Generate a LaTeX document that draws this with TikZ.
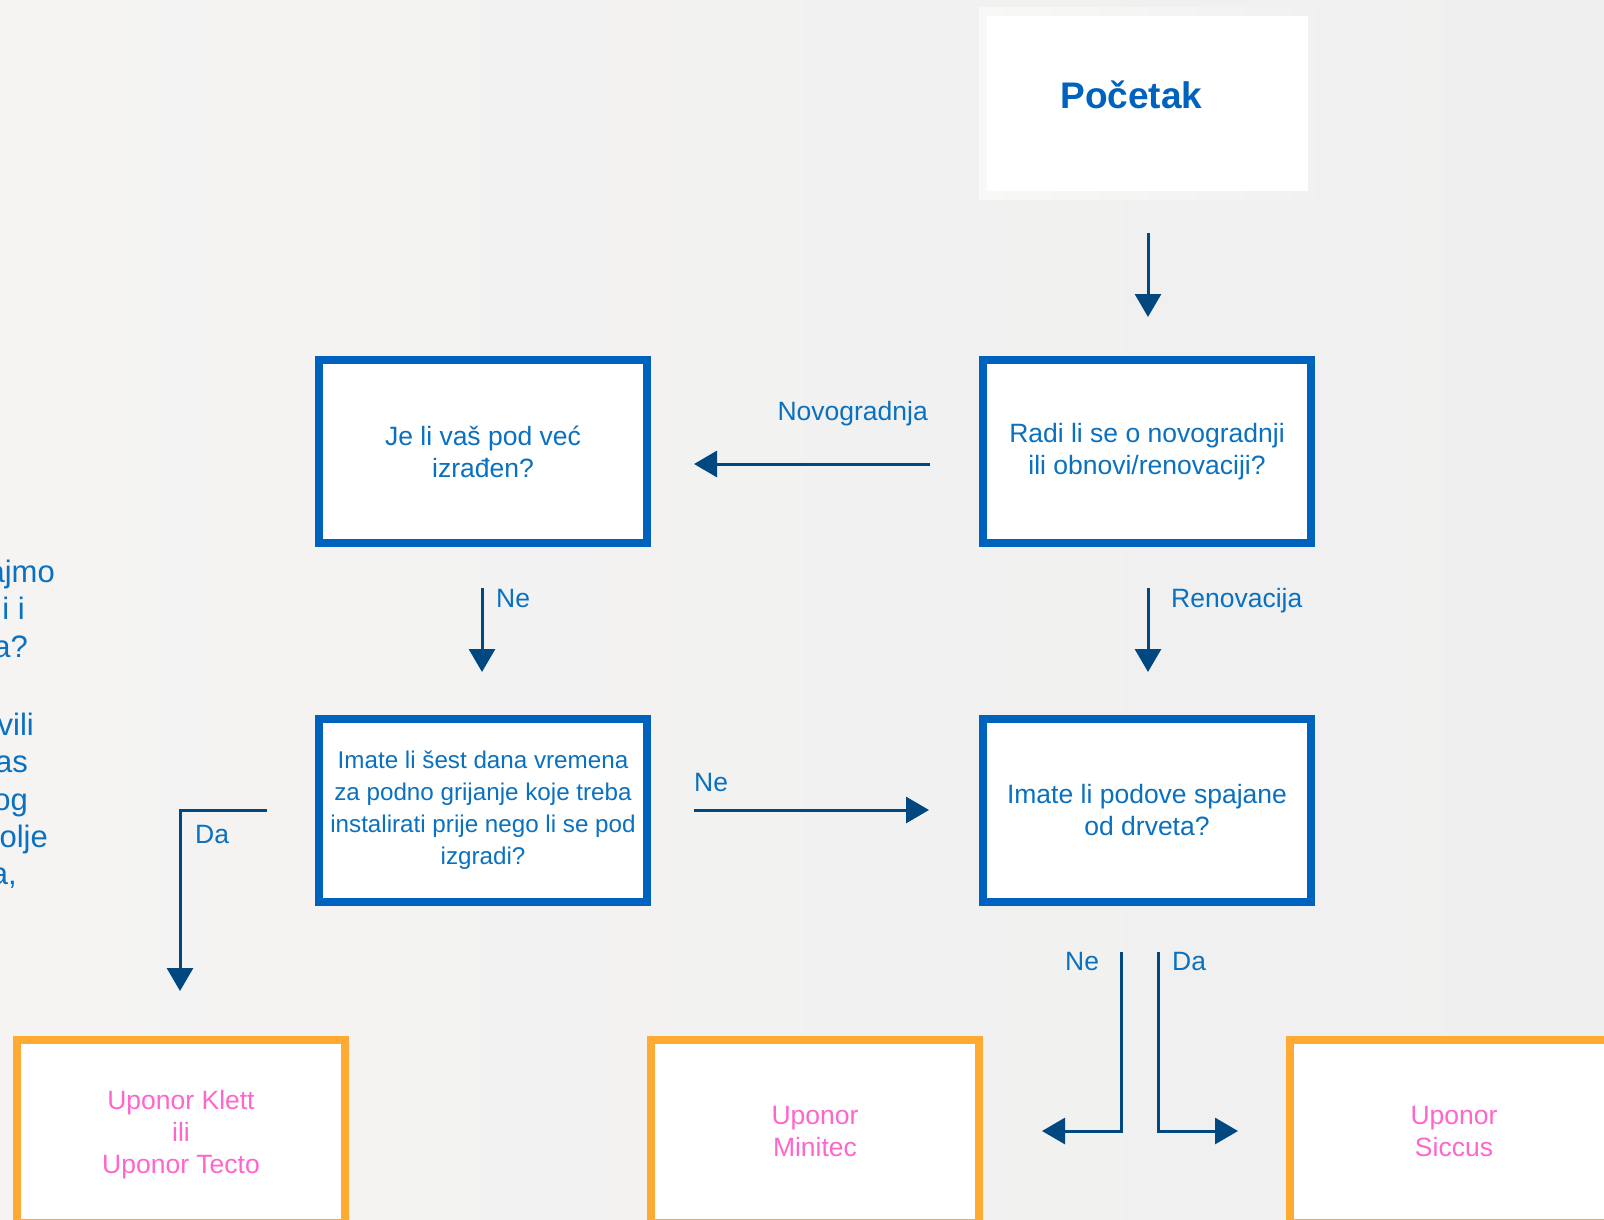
\documentclass[tikz,border=0pt]{standalone}
\usepackage{fontspec}
\setmainfont{Liberation Sans}
\usetikzlibrary{arrows.meta}
\definecolor{bgL}{HTML}{F5F4F3}
\definecolor{bgR}{HTML}{EFEFEF}
\definecolor{boxblue}{HTML}{0062BF}
\definecolor{txtblue}{HTML}{0A70C0}
\definecolor{arrowblue}{HTML}{00487F}
\definecolor{orng}{HTML}{FFAB33}
\definecolor{pnk}{HTML}{FF66CC}
\definecolor{haloL}{HTML}{F8F8F6}
\definecolor{haloR}{HTML}{F1F1F0}
\tikzset{
  qbox/.style={draw=boxblue, line width=8pt, fill=white, minimum width=328pt, minimum height=183pt,
    inner sep=0pt, align=center, text=txtblue, font={\fontsize{26.5}{32}\selectfont}},
  rbox/.style={draw=orng, line width=8pt, fill=white, minimum width=328pt, minimum height=183pt,
    inner sep=0pt, align=center, text=pnk, font={\fontsize{26.5}{32}\selectfont}},
  conn/.style={draw=arrowblue, line width=3pt, -{Triangle[length=23pt,width=26pt]}},
  lbl/.style={text=txtblue, font={\fontsize{26.5}{32}\selectfont}, inner sep=0pt},
  sidetxt/.style={text=txtblue, font={\fontsize{31}{37}\selectfont}, inner sep=0pt, anchor=base east}
}
\begin{document}
\begin{tikzpicture}[x=1pt,y=-1pt]
\useasboundingbox (0,0) rectangle (1604,1220);
\clip (0,0) rectangle (1604,1220);
\shade[left color=bgL, right color=bgR] (0,0) rectangle (1604,1220);

% start box
\shade[left color=haloL, right color=haloR] (979,8) rectangle (1316,199);
\node[fill=white, minimum width=321pt, minimum height=175pt, inner sep=0pt] (start) at (1147.5,103.5) {};
\node[anchor=base, text=boxblue, font={\fontsize{37}{44}\selectfont\bfseries}, inner sep=0pt] (starttext) at (1131.5,109) {Početak};

% question boxes
\node[qbox] (q0) at (1147,451.5) {Radi li se o novogradnji\\ili obnovi/renovaciji?};
\node[qbox] (q1) at (483,451.5) {Je li vaš pod već\\izrađen?};
\node[qbox, font={\fontsize{24.2}{32}\selectfont}] (q2) at (483,810) {Imate li šest dana vremena\\za podno grijanje koje treba\\instalirati prije nego li se pod\\izgradi?};
\node[qbox] (q3) at (1147,810) {Imate li podove spajane\\od drveta?};

% result boxes
\node[rbox, text depth=-6pt] (r1) at (181,1131.5) {Uponor Klett\\ili\\Uponor Tecto};
\node[rbox, text depth=-4pt] (r2) at (815,1131.5) {Uponor\\Minitec};
\node[rbox, text depth=-4pt] (r3) at (1454,1131.5) {Uponor\\Siccus};

% connector end points
\coordinate (a0s) at (1148,233);  \coordinate (a0e) at (1148,317);
\coordinate (n1s) at (930,464);   \coordinate (n1e) at (694,464);
\coordinate (ne1s) at (482,588);  \coordinate (ne1e) at (482,672);
\coordinate (rens) at (1148,588); \coordinate (rene) at (1148,672);
\coordinate (ne2s) at (694,810);  \coordinate (ne2e) at (929,810);
\coordinate (da1s) at (267,810);  \coordinate (da1e) at (180,991);
\coordinate (ne3s) at (1121,952); \coordinate (ne3e) at (1042,1131);
\coordinate (da3s) at (1158,952); \coordinate (da3e) at (1238,1131);

\draw[conn] (a0s) -- (a0e);
\draw[conn] (n1s) -- (n1e);
\draw[conn] (ne1s) -- (ne1e);
\draw[conn] (rens) -- (rene);
\draw[conn] (ne2s) -- (ne2e);
\draw[conn] (da1s) -| (da1e);
\draw[conn] (ne3s) |- (ne3e);
\draw[conn] (da3s) |- (da3e);

% labels
\node[lbl, anchor=base east] (lnovo) at (928,420) {Novogradnja};
\node[lbl, anchor=base west] (lne1) at (496,607) {Ne};
\node[lbl, anchor=base west] (lren) at (1171,607) {Renovacija};
\node[lbl, anchor=base west] (lne2) at (694,791) {Ne};
\node[lbl, anchor=base west] (lda1) at (195,843) {Da};
\node[lbl, anchor=base west] (lne3) at (1065,970) {Ne};
\node[lbl, anchor=base west] (lda3) at (1172,970) {Da};

% cut-off side text
\node[sidetxt] (s1) at (55,582) {ajmo};
\node[sidetxt] (s2) at (25,619) {i i};
\node[sidetxt] (s3) at (28,657) {a?};
\node[sidetxt] (s4) at (34,735) {vili};
\node[sidetxt] (s5) at (28,772) {as};
\node[sidetxt] (s6) at (28,810) {og};
\node[sidetxt] (s7) at (48,847) {olje};
\node[sidetxt] (s8) at (17,884) {a,};
\end{tikzpicture}
\end{document}
